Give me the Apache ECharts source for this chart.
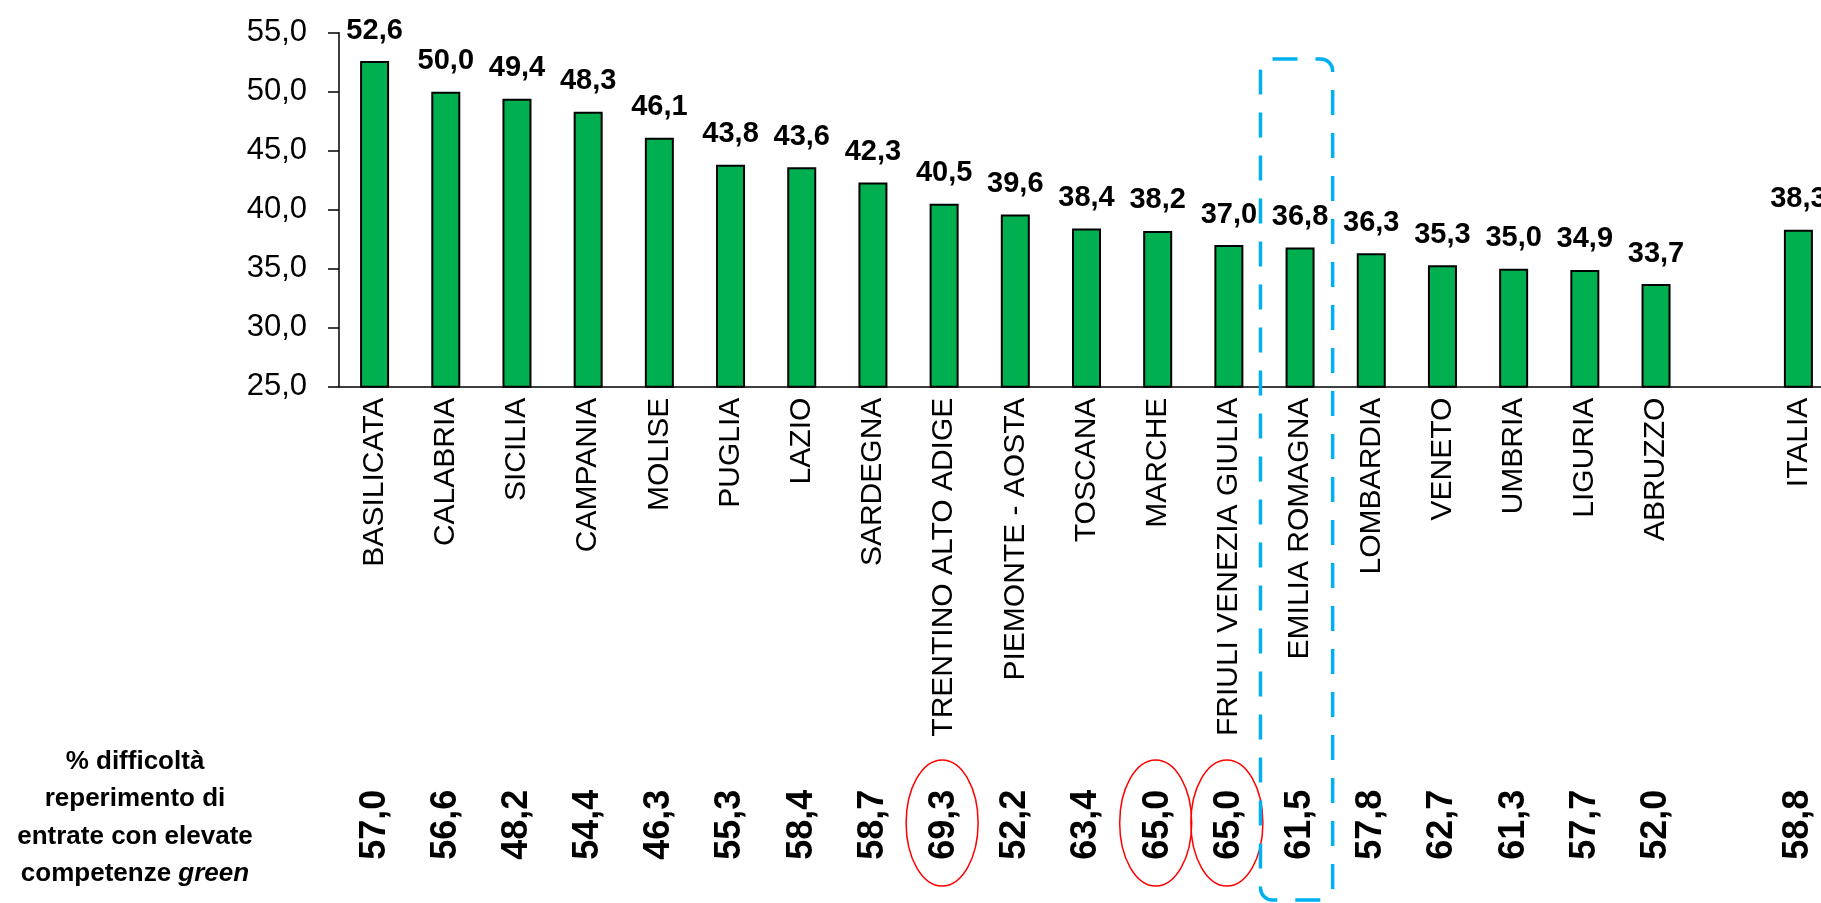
<!DOCTYPE html>
<html>
<head>
<meta charset="utf-8">
<script src="https://cdn.jsdelivr.net/npm/echarts@6/dist/echarts.min.js"></script>
<style>
  html, body { margin: 0; padding: 0; background: #fff; }
  #chart { width: 1821px; height: 903px; }
</style>
</head>
<body>
<div id="chart"></div>
<script>
// regioni (lo spazio vuoto separa ITALIA)
var regioni = ['BASILICATA', 'CALABRIA', 'SICILIA', 'CAMPANIA', 'MOLISE', 'PUGLIA', 'LAZIO',
    'SARDEGNA', 'TRENTINO ALTO ADIGE', 'PIEMONTE - AOSTA', 'TOSCANA', 'MARCHE',
    'FRIULI VENEZIA GIULIA', 'EMILIA ROMAGNA', 'LOMBARDIA', 'VENETO', 'UMBRIA',
    'LIGURIA', 'ABRUZZO', '', 'ITALIA'];

// valori delle barre
var valori = [52.6, 50.0, 49.4, 48.3, 46.1, 43.8, 43.6, 42.3, 40.5, 39.6, 38.4, 38.2,
    37.0, 36.8, 36.3, 35.3, 35.0, 34.9, 33.7, null, 38.3];

// % difficolta' reperimento entrate con competenze green
var difficoltaGreen = [57.0, 56.6, 48.2, 54.4, 46.3, 55.3, 58.4, 58.7, 69.3, 52.2, 63.4, 65.0,
    65.0, 61.5, 57.8, 62.7, 61.3, 57.7, 52.0, null, 58.8];

var yTicks = [25, 30, 35, 40, 45, 50, 55];

// regioni cerchiate in rosso e regione evidenziata
var cerchiate = ['TRENTINO ALTO ADIGE', 'MARCHE', 'FRIULI VENEZIA GIULIA'];
var evidenziata = 'EMILIA ROMAGNA';

var FONT = "'Liberation Sans', Arial, sans-serif";

function virgola(v) {
    return v == null ? '' : v.toFixed(1).replace('.', ',');
}

var dom = document.getElementById('chart');
var myChart = echarts.init(dom);

var option = {
    animation: false,
    grid: {
        left: 339,
        top: 32.7,
        width: 1495,
        height: 354,
        containLabel: false,
        outerBoundsMode: 'none'
    },
    xAxis: [
        {
            type: 'category',
            data: regioni,
            axisLine: { lineStyle: { color: '#000', width: 1.5 } },
            axisTick: { length: 10, lineStyle: { color: '#000', width: 1.5 } },
            axisLabel: {
                interval: 0,
                rotate: 90,
                margin: 11,
                color: '#000',
                fontFamily: FONT,
                fontSize: 30
            }
        },
        {
            type: 'category',
            data: regioni,
            position: 'bottom',
            offset: 403,
            axisLine: { show: false },
            axisTick: { show: false },
            axisLabel: {
                interval: 0,
                rotate: 90,
                margin: 0,
                color: '#000',
                fontFamily: FONT,
                fontWeight: 'bold',
                fontSize: 36,
                formatter: function (v, i) { return virgola(difficoltaGreen[i]); }
            }
        }
    ],
    yAxis: {
        type: 'value',
        min: yTicks[0],
        max: yTicks[yTicks.length - 1],
        interval: 5,
        splitLine: { show: false },
        axisLine: { show: true, lineStyle: { color: '#000', width: 1.5 } },
        axisTick: { show: true, length: 11, lineStyle: { color: '#000', width: 1.5 } },
        axisLabel: {
            margin: 32,
            color: '#000',
            fontFamily: FONT,
            fontSize: 31,
            formatter: function (v) { return virgola(v); }
        }
    },
    series: [
        {
            type: 'bar',
            data: valori,
            barWidth: 29,
            itemStyle: { color: '#00B050', borderColor: '#000', borderWidth: 2 },
            label: {
                show: true,
                position: 'top',
                distance: 16,
                color: '#000',
                fontFamily: FONT,
                fontWeight: 'bold',
                fontSize: 29,
                formatter: function (p) { return virgola(p.value); }
            }
        }
    ]
};

myChart.setOption(option, true);

// annotazioni: ovali rossi, riquadro tratteggiato, etichetta a sinistra
var band = 1495 / regioni.length;
var grafici = [];
cerchiate.forEach(function (r) {
    var cx = myChart.convertToPixel({ xAxisIndex: 0 }, r);
    grafici.push({
        type: 'ellipse',
        shape: { cx: cx - 2, cy: 823, rx: 36, ry: 63 },
        style: { fill: null, stroke: '#FF0000', lineWidth: 1.5 },
        z: 10
    });
});
var ex = myChart.convertToPixel({ xAxisIndex: 0 }, evidenziata);
grafici.push({
    type: 'rect',
    shape: { x: ex - band / 2 - 4, y: 59, width: band + 1, height: 841, r: 12 },
    style: { fill: null, stroke: '#00B0F0', lineWidth: 3.5, lineDash: [25, 18] },
    z: 10
});
grafici.push({
    type: 'text',
    x: 135,
    y: 743,
    style: {
        text: '% difficoltà\nreperimento di\nentrate con elevate\ncompetenze {i|green}',
        font: 'bold 26px ' + FONT,
        fill: '#000',
        align: 'center',
        verticalAlign: 'top',
        lineHeight: 37.5,
        rich: {
            i: { fontStyle: 'italic', fontWeight: 'bold', fontSize: 26, fontFamily: FONT, lineHeight: 37.5 }
        }
    }
});
myChart.setOption({ graphic: grafici });
</script>
</body>
</html>
